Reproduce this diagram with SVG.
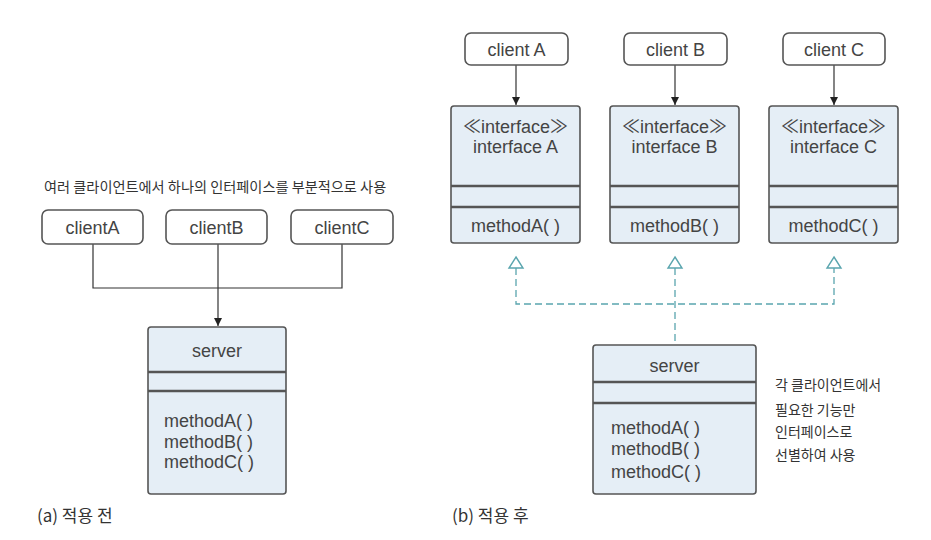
<svg xmlns="http://www.w3.org/2000/svg" width="931" height="540" viewBox="0 0 931 540">
<style>
text{font-family:"Liberation Sans",Arial,"Noto Sans CJK KR",sans-serif;fill:#444;}
.ko{font-family:"Noto Sans CJK KR","Liberation Sans",sans-serif;fill:#333;}
.client{fill:#fff;stroke:#555;stroke-width:1.6;}
.cls{fill:#e5eef6;stroke:#555;stroke-width:1.6;}
.sep{stroke:#555;stroke-width:2.5;}
.t16{font-size:18px;}
.line{fill:none;stroke:#333;stroke-width:1.2;}
.dash{fill:none;stroke:#5aa5ae;stroke-width:1.3;stroke-dasharray:7 4;}
.tri{fill:#fff;stroke:#5aa5ae;stroke-width:1.4;}
</style>
<defs>
<marker id="arr" viewBox="0 0 10 10" refX="10" refY="5" markerWidth="8" markerHeight="8" markerUnits="userSpaceOnUse" orient="auto">
<path d="M0,0 L10,5 L0,10 z" fill="#222"/>
</marker>
</defs>
<rect width="931" height="540" fill="#fff"/>

<!-- Left panel -->
<text class="ko" x="44" y="192" font-size="14.2">여러 클라이언트에서 하나의 인터페이스를 부분적으로 사용</text>

<g id="connectors-left">
<path class="line" d="M93,244 V288 H342 V244"/>
<path class="line" d="M218,244 V326" marker-end="url(#arr)"/>
</g>

<g id="clientA-left">
<rect class="client" x="42" y="210" width="101" height="34" rx="6"/>
<text class="t16" x="92.5" y="234" text-anchor="middle">clientA</text>
</g>
<g id="clientB-left">
<rect class="client" x="166" y="210" width="101" height="34" rx="6"/>
<text class="t16" x="216.5" y="234" text-anchor="middle">clientB</text>
</g>
<g id="clientC-left">
<rect class="client" x="291" y="210" width="102" height="34" rx="6"/>
<text class="t16" x="342" y="234" text-anchor="middle">clientC</text>
</g>

<g id="server-left">
<rect class="cls" x="148" y="327" width="138" height="167" rx="3"/>
<line class="sep" x1="148" y1="372" x2="286" y2="372"/>
<line class="sep" x1="148" y1="391" x2="286" y2="391"/>
<text class="t16" x="217" y="357" text-anchor="middle">server</text>
<text class="t16" x="164" y="427">methodA( )</text>
<text class="t16" x="164" y="448">methodB( )</text>
<text class="t16" x="164" y="468">methodC( )</text>
</g>

<text class="ko" x="37" y="522" font-size="17">(a) 적용 전</text>

<!-- Right panel -->
<g id="connectors-right">
<line class="line" x1="516" y1="65" x2="516" y2="105" marker-end="url(#arr)"/>
<line class="line" x1="675" y1="65" x2="675" y2="105" marker-end="url(#arr)"/>
<line class="line" x1="834" y1="65" x2="834" y2="105" marker-end="url(#arr)"/>
<path class="dash" d="M516,268 V304 H834 V268"/>
<path class="dash" d="M675,268 V345"/>
<path class="tri" d="M516,257 L523,268 L509,268 z"/>
<path class="tri" d="M675,257 L682,268 L668,268 z"/>
<path class="tri" d="M834,257 L841,268 L827,268 z"/>
</g>

<g id="clientA">
<rect class="client" x="465" y="33" width="103" height="32" rx="6"/>
<text class="t16" x="516.5" y="56" text-anchor="middle">client A</text>
</g>
<g id="clientB">
<rect class="client" x="624" y="33" width="103" height="32" rx="6"/>
<text class="t16" x="675.5" y="56" text-anchor="middle">client B</text>
</g>
<g id="clientC">
<rect class="client" x="783" y="33" width="102" height="32" rx="6"/>
<text class="t16" x="834" y="56" text-anchor="middle">client C</text>
</g>

<g id="interfaceA">
<rect class="cls" x="451" y="106" width="129" height="137" rx="3"/>
<line class="sep" x1="451" y1="186" x2="580" y2="186"/>
<line class="sep" x1="451" y1="207" x2="580" y2="207"/>
<text class="t16" x="515.5" y="133" text-anchor="middle">≪interface≫</text>
<text class="t16" x="515.5" y="153" text-anchor="middle">interface A</text>
<text class="t16" x="515.5" y="232" text-anchor="middle">methodA( )</text>
</g>
<g id="interfaceB">
<rect class="cls" x="610" y="106" width="129" height="137" rx="3"/>
<line class="sep" x1="610" y1="186" x2="739" y2="186"/>
<line class="sep" x1="610" y1="207" x2="739" y2="207"/>
<text class="t16" x="674.5" y="133" text-anchor="middle">≪interface≫</text>
<text class="t16" x="674.5" y="153" text-anchor="middle">interface B</text>
<text class="t16" x="674.5" y="232" text-anchor="middle">methodB( )</text>
</g>
<g id="interfaceC">
<rect class="cls" x="769" y="106" width="129" height="137" rx="3"/>
<line class="sep" x1="769" y1="186" x2="898" y2="186"/>
<line class="sep" x1="769" y1="207" x2="898" y2="207"/>
<text class="t16" x="833.5" y="133" text-anchor="middle">≪interface≫</text>
<text class="t16" x="833.5" y="153" text-anchor="middle">interface C</text>
<text class="t16" x="833.5" y="232" text-anchor="middle">methodC( )</text>
</g>

<g id="server">
<rect class="cls" x="593" y="345" width="163" height="149" rx="3"/>
<line class="sep" x1="593" y1="382" x2="756" y2="382"/>
<line class="sep" x1="593" y1="403" x2="756" y2="403"/>
<text class="t16" x="674.5" y="372" text-anchor="middle">server</text>
<text class="t16" x="611" y="434">methodA( )</text>
<text class="t16" x="611" y="455">methodB( )</text>
<text class="t16" x="611" y="478">methodC( )</text>
</g>

<g id="note">
<text class="ko" x="775" y="390" font-size="14">각 클라이언트에서</text>
<text class="ko" x="775" y="415" font-size="14">필요한 기능만</text>
<text class="ko" x="775" y="437" font-size="14">인터페이스로</text>
<text class="ko" x="775" y="460" font-size="14">선별하여 사용</text>
</g>

<text class="ko" x="452" y="522" font-size="17">(b) 적용 후</text>
</svg>
